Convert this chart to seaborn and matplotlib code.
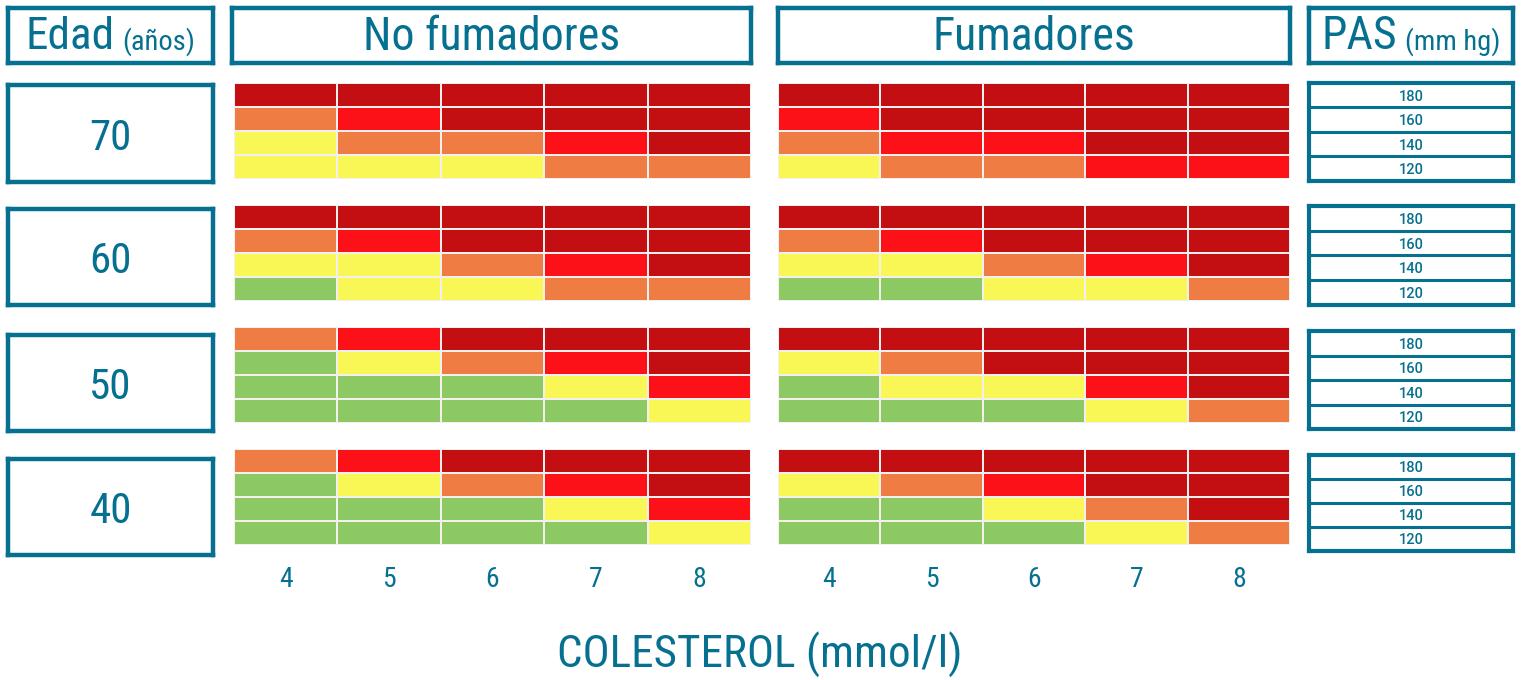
import numpy as np
import pandas as pd
import matplotlib
matplotlib.use("Agg")
import matplotlib.pyplot as plt
import seaborn as sns
from matplotlib.colors import ListedColormap
from matplotlib import font_manager

# ---------------- data ----------------
cholesterol = [4, 5, 6, 7, 8]
pas_levels = [180, 160, 140, 120]
ages = [70, 60, 50, 40]
risk_levels = [0, 1, 2, 3, 4]
risk_colors = ["#8DC963", "#F9F755", "#EE7C43", "#FC1118", "#C30E12"]

# no fumadores (rows: PAS 180,160,140,120; cols: colesterol 4..8)
nf_70 = [[4, 4, 4, 4, 4], [2, 3, 4, 4, 4], [1, 2, 2, 3, 4], [1, 1, 1, 2, 2]]
nf_60 = [[4, 4, 4, 4, 4], [2, 3, 4, 4, 4], [1, 1, 2, 3, 4], [0, 1, 1, 2, 2]]
nf_50 = [[2, 3, 4, 4, 4], [0, 1, 2, 3, 4], [0, 0, 0, 1, 3], [0, 0, 0, 0, 1]]
nf_40 = [[2, 3, 4, 4, 4], [0, 1, 2, 3, 4], [0, 0, 0, 1, 3], [0, 0, 0, 0, 1]]
# fumadores
f_70 = [[4, 4, 4, 4, 4], [3, 4, 4, 4, 4], [2, 3, 3, 4, 4], [1, 2, 2, 3, 3]]
f_60 = [[4, 4, 4, 4, 4], [2, 3, 4, 4, 4], [1, 1, 2, 3, 4], [0, 0, 1, 1, 2]]
f_50 = [[4, 4, 4, 4, 4], [1, 2, 4, 4, 4], [0, 1, 1, 3, 4], [0, 0, 0, 1, 2]]
f_40 = [[4, 4, 4, 4, 4], [1, 2, 3, 4, 4], [0, 0, 1, 2, 4], [0, 0, 0, 1, 2]]

no_fum = [nf_70, nf_60, nf_50, nf_40]
fum = [f_70, f_60, f_50, f_40]

# ---------------- style ----------------
sns.set_theme(style="white")
names = {f.name for f in font_manager.fontManager.ttflist}
fam = "Roboto"
for cand in ["Roboto Condensed", "Liberation Sans Narrow", "DejaVu Sans Condensed", "Roboto"]:
    if cand in names:
        fam = cand
        break
plt.rcParams["font.family"] = [fam, "DejaVu Sans"]
REG = ["Roboto", "DejaVu Sans"]

TEAL = "#05708F"
W, H = 1522, 680
fig = plt.figure(figsize=(W / 100, H / 100), dpi=100)


def rect(x0, y0, x1, y1):
    return [x0 / W, 1 - y1 / H, (x1 - x0) / W, (y1 - y0) / H]


def box(x0, y0, x1, y1, lw=3.2):
    ax = fig.add_axes(rect(x0, y0, x1, y1))
    ax.set_xticks([])
    ax.set_yticks([])
    ax.set_xlim(0, 1)
    ax.set_ylim(0, 1)
    for s in ax.spines.values():
        s.set_visible(True)
        s.set_color(TEAL)
        s.set_linewidth(lw)
    ax.set_facecolor("white")
    return ax


cmap = ListedColormap(risk_colors)

heat_rows = [(83, 179), (205, 301), (327, 423), (449, 545)]
age_rows = [(85, 182), (209, 305), (335, 431), (459, 555)]
pas_rows = [(83, 181), (206, 305), (331, 429), (455, 551)]
panel_x = [(234, 751), (778, 1290)]

for i, age in enumerate(ages):
    y0, y1 = heat_rows[i]
    for j, data in enumerate([no_fum[i], fum[i]]):
        x0, x1 = panel_x[j]
        ax = fig.add_axes(rect(x0, y0, x1, y1))
        df = pd.DataFrame(data, index=pas_levels, columns=cholesterol)
        sns.heatmap(df, ax=ax, cmap=cmap, vmin=-0.5, vmax=4.5, cbar=False,
                    linewidths=1.2, linecolor="#F4F0F0", yticklabels=False,
                    xticklabels=(i == len(ages) - 1))
        ax.set_xlabel("")
        ax.set_ylabel("")
        ax.tick_params(axis="x", length=0, pad=15, labelsize=20, labelcolor=TEAL)
        ax.tick_params(axis="y", length=0)

    # age box
    ay0, ay1 = age_rows[i]
    axa = box(8, ay0, 213, ay1)
    axa.text(0.5, 0.5, str(age), ha="center", va="center_baseline", fontsize=31, color=TEAL)

    # PAS box
    py0, py1 = pas_rows[i]
    axp = box(1309, py0, 1513, py1, lw=3.0)
    n = len(pas_levels)
    for k in range(1, n):
        axp.axhline(k / n, color=TEAL, lw=2.2)
    for k, p in enumerate(pas_levels):
        axp.text(0.5, 1 - (k + 0.5) / n, str(p), ha="center", va="center_baseline",
                 fontsize=10.5, color=TEAL, family=REG, fontweight="medium")

# header boxes
axh1 = box(8, 8, 213, 63)
axh2 = box(232, 8, 751, 63)
axh3 = box(778, 8, 1290, 63)
axh4 = box(1309, 8, 1513, 63)
axh2.text(0.5, 0.48, "No fumadores", ha="center", va="center", fontsize=33, color=TEAL)
axh3.text(0.5, 0.48, "Fumadores", ha="center", va="center", fontsize=33, color=TEAL)


def two_part(ax, big, small, bsize, ssize, ybase=0.25):
    t1 = ax.text(0, ybase, big, ha="left", va="baseline", fontsize=bsize, color=TEAL)
    t2 = ax.text(0, ybase, small, ha="left", va="baseline", fontsize=ssize, color=TEAL)
    fig.canvas.draw()
    r = fig.canvas.get_renderer()
    inv = ax.transAxes.inverted()
    e1 = t1.get_window_extent(r)
    e2 = t2.get_window_extent(r)
    w1 = inv.transform((e1.x1, 0))[0] - inv.transform((e1.x0, 0))[0]
    w2 = inv.transform((e2.x1, 0))[0] - inv.transform((e2.x0, 0))[0]
    gap = 0.035
    start = 0.5 - (w1 + gap + w2) / 2
    t1.set_x(start)
    t2.set_x(start + w1 + gap)


two_part(axh1, "Edad", "(años)", 32.5, 20.5)
two_part(axh4, "PAS", "(mm hg)", 33, 20.5)

fig.text(760 / W, 1 - 655 / H, "COLESTEROL (mmol/l)", ha="center", va="center",
         fontsize=32.5, color=TEAL)

fig.savefig("out.png", dpi=100, facecolor="white")
